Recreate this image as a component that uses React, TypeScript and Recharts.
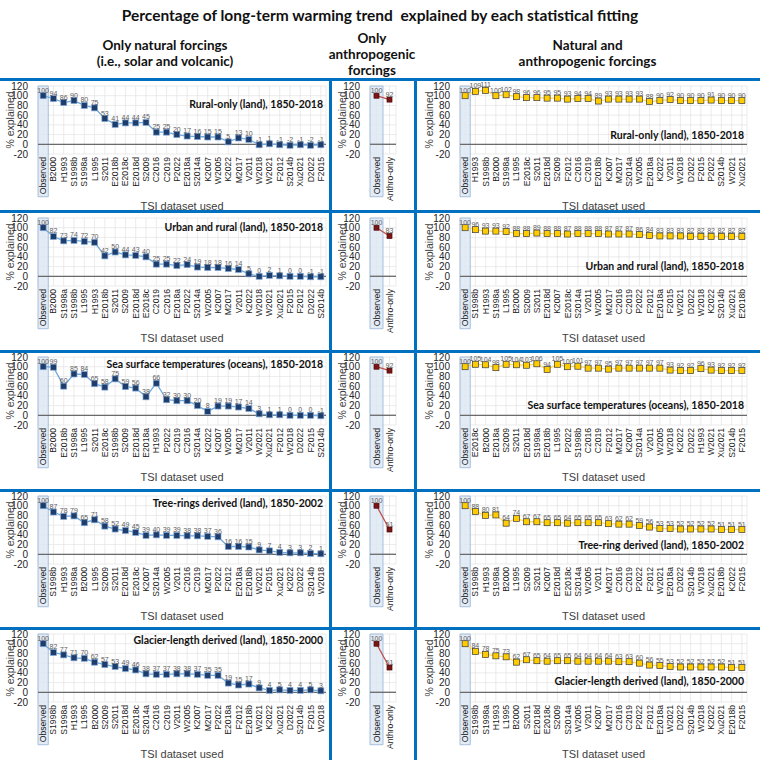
import React from 'react'
import { LineChart, Line, XAxis, YAxis, CartesianGrid, ReferenceLine, ReferenceArea, LabelList } from 'recharts'

const Y_TICKS = [-20, 0, 20, 40, 60, 80, 100, 120]

// Only natural forcings (solar + volcanic)
const NAT_RURAL_CATS = ['Observed', 'B2000', 'H1993', 'S1998b', 'S1998a', 'L1995', 'S2011', 'E2018b', 'E2018c', 'E2018d', 'S2009', 'C2016', 'C2019', 'P2022', 'E2018a', 'S2014a', 'K2007', 'W2005', 'K2022', 'M2017', 'V2011', 'W2018', 'W2021', 'F2012', 'S2014b', 'Xu2021', 'D2022', 'F2015']
const NAT_RURAL_VALS = [100, 94, 86, 90, 80, 75, 53, 41, 44, 44, 45, 25, 25, 20, 17, 16, 15, 15, 5, 13, 10, -1, 1, -1, -2, -1, -2, -1]

const NAT_URBAN_CATS = ['Observed', 'B2000', 'S1998a', 'S1998b', 'L1995', 'H1993', 'E2018b', 'S2011', 'S2009', 'E2018d', 'E2018c', 'C2019', 'C2016', 'E2018a', 'P2022', 'S2014a', 'W2005', 'K2007', 'M2017', 'V2011', 'K2022', 'W2018', 'W2021', 'Xu2021', 'F2015', 'F2012', 'D2022', 'S2014b']
const NAT_URBAN_VALS = [100, 82, 73, 74, 72, 70, 42, 50, 44, 43, 40, 25, 25, 22, 24, 19, 18, 18, 16, 14, 5, 0, 2, 1, 0, 0, -1, -1]

const NAT_SST_CATS = ['Observed', 'B2000', 'E2018b', 'S1998a', 'L1995', 'S2011', 'E2018c', 'S1998b', 'S2009', 'E2018d', 'E2018a', 'H1993', 'P2022', 'C2019', 'C2016', 'S2014a', 'K2022', 'K2007', 'W2005', 'M2017', 'V2011', 'W2021', 'Xu2021', 'F2012', 'W2018', 'D2022', 'F2015', 'S2014b']
const NAT_SST_VALS = [100, 99, 60, 85, 84, 65, 58, 75, 59, 56, 38, 66, 32, 30, 30, 20, 8, 19, 19, 17, 14, 3, 1, 1, 0, 0, 0, -1]

const NAT_TREE_CATS = ['Observed', 'S1998b', 'H1993', 'S1998a', 'B2000', 'L1995', 'S2009', 'S2011', 'E2018d', 'E2018c', 'K2007', 'S2014a', 'W2005', 'V2011', 'C2016', 'C2019', 'M2017', 'P2022', 'F2012', 'E2018a', 'E2018b', 'W2021', 'F2015', 'Xu2021', 'K2022', 'D2022', 'S2014b', 'W2018']
const NAT_TREE_VALS = [100, 87, 78, 79, 65, 71, 58, 52, 49, 45, 39, 40, 39, 39, 38, 38, 37, 36, 16, 16, 15, 9, 7, 4, 3, 3, 2, 1]

const NAT_GLAC_CATS = ['Observed', 'S1998b', 'S1998a', 'H1993', 'L1995', 'B2000', 'S2009', 'S2011', 'E2018d', 'E2018c', 'S2014a', 'C2016', 'C2019', 'V2011', 'W2005', 'K2007', 'M2017', 'P2022', 'E2018a', 'F2012', 'E2018b', 'W2021', 'K2022', 'Xu2021', 'D2022', 'S2014b', 'F2015', 'W2018']
const NAT_GLAC_VALS = [100, 82, 77, 71, 70, 62, 57, 53, 49, 46, 38, 37, 37, 38, 38, 37, 35, 35, 19, 15, 17, 9, 4, 5, 4, 4, 5, 3]

// Only anthropogenic forcings
const ANTHRO_CATS = ['Observed', 'Anthro-only']
const ANTHRO_RURAL_VALS = [100, 92]
const ANTHRO_URBAN_VALS = [100, 83]
const ANTHRO_SST_VALS = [100, 92]
const ANTHRO_TREE_VALS = [100, 51]
const ANTHRO_GLAC_VALS = [100, 51]

// Natural and anthropogenic forcings
const ALL_RURAL_CATS = ['Observed', 'H1993', 'S1998b', 'B2000', 'S1998a', 'L1995', 'E2018c', 'S2011', 'E2018d', 'S2009', 'F2012', 'C2016', 'C2019', 'E2018b', 'K2007', 'M2017', 'S2014a', 'W2005', 'E2018a', 'K2022', 'V2011', 'W2018', 'D2022', 'F2015', 'P2022', 'S2014b', 'W2021', 'Xu2021']
const ALL_RURAL_VALS = [100, 109, 111, 100, 102, 98, 96, 96, 95, 95, 93, 94, 94, 89, 93, 93, 93, 93, 88, 90, 92, 90, 90, 90, 91, 90, 90, 90]

const ALL_URBAN_CATS = ['Observed', 'S1998b', 'H1993', 'S1998a', 'L1995', 'B2000', 'S2009', 'S2011', 'E2018d', 'K2007', 'E2018c', 'S2014a', 'V2011', 'W2005', 'M2017', 'C2016', 'C2019', 'P2022', 'F2012', 'E2018a', 'F2015', 'W2021', 'D2022', 'W2018', 'K2022', 'S2014b', 'Xu2021', 'E2018b']
const ALL_URBAN_VALS = [100, 96, 93, 93, 92, 88, 88, 89, 88, 88, 87, 88, 88, 88, 87, 87, 87, 86, 84, 83, 83, 83, 82, 82, 82, 82, 82, 82]

const ALL_SST_CATS = ['Observed', 'E2018c', 'B2000', 'E2018a', 'S2009', 'S2011', 'E2018d', 'S1998a', 'E2018b', 'L1995', 'P2022', 'S1998b', 'C2016', 'C2019', 'F2012', 'M2017', 'K2007', 'S2014a', 'V2011', 'W2005', 'W2018', 'K2022', 'D2022', 'H1993', 'W2021', 'Xu2021', 'S2014b', 'F2015']
const ALL_SST_VALS = [100, 105, 104, 98, 105, 104, 103, 106, 94, 105, 100, 101, 97, 97, 95, 97, 97, 97, 97, 97, 93, 92, 92, 96, 93, 92, 92, 92]

const ALL_TREE_CATS = ['Observed', 'S1998b', 'H1993', 'S1998a', 'B2000', 'L1995', 'S2009', 'S2011', 'K2007', 'E2018d', 'E2018c', 'S2014a', 'W2005', 'V2011', 'M2017', 'C2016', 'C2019', 'P2022', 'F2012', 'W2021', 'E2018a', 'D2022', 'S2014b', 'W2018', 'Xu2021', 'E2018b', 'K2022', 'F2015']
const ALL_TREE_VALS = [100, 88, 80, 81, 64, 74, 67, 67, 65, 65, 64, 65, 65, 65, 63, 62, 62, 59, 56, 53, 53, 52, 52, 52, 52, 51, 51, 51]

const ALL_GLAC_CATS = ['Observed', 'S1998b', 'S1998a', 'H1993', 'L1995', 'B2000', 'S2011', 'E2018d', 'E2018c', 'S2009', 'S2014a', 'W2005', 'V2011', 'K2007', 'M2017', 'C2016', 'C2019', 'P2022', 'F2012', 'E2018a', 'W2021', 'D2022', 'S2014b', 'W2018', 'K2022', 'Xu2021', 'E2018b', 'F2015']
const ALL_GLAC_VALS = [100, 84, 78, 75, 73, 62, 67, 65, 64, 65, 65, 64, 64, 64, 64, 63, 63, 60, 56, 55, 53, 52, 52, 52, 52, 52, 51, 51]

const LEFT_TITLES = ['Rural-only (land), 1850-2018', 'Urban and rural (land), 1850-2018', 'Sea surface temperatures (oceans), 1850-2018', 'Tree-rings derived (land), 1850-2002', 'Glacier-length derived (land), 1850-2000']
const RIGHT_TITLES = ['Rural-only (land), 1850-2018', 'Urban and rural (land), 1850-2018', 'Sea surface temperatures (oceans), 1850-2018', 'Tree-ring derived (land), 1850-2002', 'Glacier-length derived (land), 1850-2000']

const ROW_TOPS = [78, 210, 349, 488, 626]
const BLUE_LINES = [79, 211, 351, 490, 628]
const CHART_H = 134
const BLUE = '#0070C0'
const FONT = '"Liberation Sans", Arial, sans-serif'
const TITLE_FONT = 'Lato, "Open Sans", sans-serif'

const STYLES: Record<string, any> = {
  nat: { line: '#6FA8DC', fill: '#1F3D6B', stroke: '#7FA8D8', size: 6 },
  anthro: { line: '#C0504D', fill: '#7B1515', stroke: '#4A0A0A', size: 5 },
  all: { line: '#FFD966', fill: '#FFCC00', stroke: '#3A3A3A', size: 6 },
}

function CatTick({ x, y, payload }: any) {
  const ty = y + 1
  return (
    <text x={x} y={ty} transform={`rotate(-90, ${x}, ${ty})`} textAnchor="end" dominantBaseline="central" fontSize={8.6} fill="#1a1a1a" fontFamily={FONT}>
      {payload.value}
    </text>
  )
}

function squareDot(s: any) {
  return (props: any) => {
    const { cx, cy, index } = props
    if (cx == null || cy == null) return <g key={index} />
    return <rect key={index} x={cx - s.size / 2} y={cy - s.size / 2} width={s.size} height={s.size} fill={s.fill} stroke={s.stroke} strokeWidth={0.7} />
  }
}

function Panel({ cats, vals, kind, left, top, width, marginLeft, yWidth, labelOffset, title, titleY, showXLabel }: any) {
  const data = cats.map((c: string, i: number) => ({ name: c, v: vals[i] }))
  const s = STYLES[kind]
  return (
    <div style={{ position: 'absolute', left, top, fontFamily: FONT }}>
      <LineChart width={width} height={CHART_H} data={data} margin={{ top: 8, right: 4, bottom: 2, left: marginLeft }}>
        <CartesianGrid stroke="#E2E2E2" strokeWidth={0.7} />
        <ReferenceArea x1="Observed" x2="Observed" y1={-108} y2={120} ifOverflow="visible" fill="#DCE6F2" fillOpacity={0.8} stroke="#95B3D7" strokeWidth={0.8} />
        <XAxis
          dataKey="name"
          scale="band"
          interval={0}
          tick={<CatTick />}
          tickLine={false}
          axisLine={false}
          tickSize={0}
          tickMargin={2}
          height={56}
          label={showXLabel ? { value: 'TSI dataset used', position: 'insideBottom', offset: 0, fontSize: 11, fill: '#404040' } : undefined}
        />
        <YAxis
          domain={[-20, 120]}
          ticks={Y_TICKS}
          interval={0}
          width={yWidth}
          tickLine={false}
          axisLine={false}
          tickMargin={4}
          tick={{ fontSize: 10, fill: '#262626' }}
          label={{ value: '% explained', angle: -90, position: 'insideLeft', offset: labelOffset, textAnchor: 'middle', fontSize: 10.5, fill: '#404040' }}
        />
        <ReferenceLine y={0} stroke="#6A6A6A" strokeWidth={1.3} />
        {title && (
          <ReferenceLine
            y={titleY}
            strokeOpacity={0}
            label={{ value: title, position: 'insideRight', offset: 3, fontSize: 10.5, fontWeight: 700, fill: '#111', fontFamily: TITLE_FONT }}
          />
        )}
        <Line dataKey="v" type="linear" stroke={s.line} strokeWidth={1.3} dot={squareDot(s)} activeDot={false} isAnimationActive={false}>
          <LabelList dataKey="v" position="top" offset={3} fontSize={7} fill="#606060" />
        </Line>
      </LineChart>
    </div>
  )
}

export default function App() {
  const rows = [
    { nc: NAT_RURAL_CATS, nv: NAT_RURAL_VALS, av: ANTHRO_RURAL_VALS, ac: ALL_RURAL_CATS, alv: ALL_RURAL_VALS, ly: 82, ry: 18 },
    { nc: NAT_URBAN_CATS, nv: NAT_URBAN_VALS, av: ANTHRO_URBAN_VALS, ac: ALL_URBAN_CATS, alv: ALL_URBAN_VALS, ly: 100, ry: 20 },
    { nc: NAT_SST_CATS, nv: NAT_SST_VALS, av: ANTHRO_SST_VALS, ac: ALL_SST_CATS, alv: ALL_SST_VALS, ly: 104, ry: 20 },
    { nc: NAT_TREE_CATS, nv: NAT_TREE_VALS, av: ANTHRO_TREE_VALS, ac: ALL_TREE_CATS, alv: ALL_TREE_VALS, ly: 104, ry: 18 },
    { nc: NAT_GLAC_CATS, nv: NAT_GLAC_VALS, av: ANTHRO_GLAC_VALS, ac: ALL_GLAC_CATS, alv: ALL_GLAC_VALS, ly: 108, ry: 22 },
  ]
  const head: React.CSSProperties = { position: 'absolute', fontFamily: TITLE_FONT, fontWeight: 700, color: '#111', textAlign: 'center', lineHeight: '16px' }
  return (
    <div style={{ position: 'absolute', left: 0, top: 0, width: 760, height: 760, background: '#fff', overflow: 'hidden' }}>
      <div style={{ ...head, left: 0, top: 5, width: 760, fontSize: 15.5, lineHeight: '20px' }}>
        Percentage of long-term warming trend&nbsp; explained by each statistical fitting
      </div>
      <div style={{ ...head, left: 0, top: 37, width: 330, fontSize: 13.5 }}>
        Only natural forcings<br />(i.e., solar and volcanic)
      </div>
      <div style={{ ...head, left: 322, top: 30, width: 100, fontSize: 13.5 }}>
        Only<br />anthropogenic<br />forcings
      </div>
      <div style={{ ...head, left: 415, top: 37, width: 345, fontSize: 13.5 }}>
        Natural and<br />anthropogenic forcings
      </div>

      {rows.map((r, i) => (
        <React.Fragment key={i}>
          <Panel cats={r.nc} vals={r.nv} kind="nat" left={0} top={ROW_TOPS[i]} width={330} marginLeft={2} yWidth={36} labelOffset={8} title={LEFT_TITLES[i]} titleY={r.ly} showXLabel />
          <Panel cats={ANTHRO_CATS} vals={r.av} kind="anthro" left={332} top={ROW_TOPS[i]} width={68} marginLeft={4} yWidth={34} labelOffset={6} />
          <Panel cats={r.ac} vals={r.alv} kind="all" left={418} top={ROW_TOPS[i]} width={333} marginLeft={4} yWidth={38} labelOffset={7} title={RIGHT_TITLES[i]} titleY={r.ry} showXLabel />
        </React.Fragment>
      ))}

      {BLUE_LINES.map((y, i) => (
        <div key={i} style={{ position: 'absolute', left: 0, top: y - 1, width: 760, height: 3, background: BLUE }} />
      ))}
      <div style={{ position: 'absolute', left: 329, top: 79, width: 3, height: 681, background: BLUE }} />
      <div style={{ position: 'absolute', left: 414, top: 79, width: 3, height: 681, background: BLUE }} />
    </div>
  )
}
